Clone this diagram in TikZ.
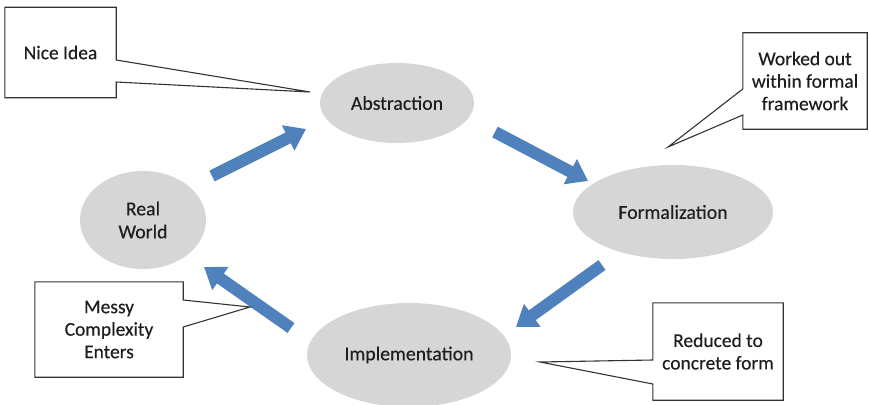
\documentclass[tikz,border=0pt]{standalone}
\usepackage{fontspec}
\setmainfont{Carlito}
\newfontfamily\lblfont{Carlito}[FakeBold=0.3]
\usetikzlibrary{arrows.meta,shapes.geometric}
\definecolor{ellfill}{RGB}{214,214,214}
\definecolor{arrblue}{RGB}{79,129,189}
\definecolor{txt}{RGB}{30,30,30}
\begin{document}
\begin{tikzpicture}[x=1pt,y=-1pt,
  bubble/.style={ellipse, fill=ellfill, inner sep=0pt, text=txt,
    font=\lblfont\fontsize{19.8}{23}\selectfont, align=center},
  flow/.style={draw=arrblue, line width=12pt,
    -{Triangle[width=27pt,length=20pt]}},
  callout/.style={inner sep=0pt, text=txt,
    font=\lblfont\fontsize{19.5}{22.5}\selectfont, align=center},
  outline/.style={draw=black!80, line width=1.1pt, line join=miter}
]
\useasboundingbox (0,0) rectangle (869,404);
\fill[white] (0,0) rectangle (869,404);

% ellipses
\node[bubble, minimum width=154pt, minimum height=80pt] (abs) at (397,103) {Abstraction};
\node[bubble, minimum width=200pt, minimum height=94pt] (form) at (673,212) {Formalization};
\node[bubble, minimum width=126pt, minimum height=98pt] (rw) at (143,220) {Real\\World};
\node[bubble, minimum width=204pt, minimum height=104pt] (impl) at (409,355) {Implementation};

% flow arrows
\coordinate (a1s) at (212,176);
\coordinate (a1e) at (306,129);
\coordinate (a2s) at (495,132);
\coordinate (a2e) at (588,181);
\coordinate (a3s) at (602,265);
\coordinate (a3e) at (516,327);
\coordinate (a4s) at (291,328);
\coordinate (a4e) at (204,267);
\draw[flow] (a1s) -- (a1e);
\draw[flow] (a2s) -- (a2e);
\draw[flow] (a3s) -- (a3e);
\draw[flow] (a4s) -- (a4e);

% callouts
\node[callout, minimum width=111pt, minimum height=90pt] (nice) at (60.5,52.5) {Nice Idea};
\coordinate (niceTip) at (310,92);
\draw[outline] (nice.north west) -- (nice.north east) -- (nice.north east |- 0,60)
  -- (niceTip) -- (nice.north east |- 0,82) -- (nice.south east)
  -- (nice.south west) -- cycle;

\node[callout, minimum width=124pt, minimum height=96pt] (work) at (805,81) {Worked out\\within formal\\framework};
\coordinate (workTip) at (668,147);
\draw[outline] (work.north west) -- (work.north east) -- (work.south east)
  -- (work.south west) -- (work.south west |- 0,115) -- (workTip)
  -- (work.south west |- 0,89) -- cycle;

\node[callout, minimum width=148pt, minimum height=95pt] (messy) at (109,329.5) {Messy\\Complexity\\Enters};
\coordinate (messyTip) at (250,307);
\draw[outline] (messy.north west) -- (messy.north east) -- (messy.north east |- 0,300)
  -- (messyTip) -- (messy.north east |- 0,327) -- (messy.south east)
  -- (messy.south west) -- cycle;

\node[callout, minimum width=130pt, minimum height=97pt] (red) at (718,351.5) {Reduced to\\concrete form};
\coordinate (redTip) at (540,362);
\draw[outline] (red.north west) -- (red.north east) -- (red.south east)
  -- (red.south west) -- (red.south west |- 0,384) -- (redTip)
  -- (red.south west |- 0,360) -- cycle;
\end{tikzpicture}
\end{document}
